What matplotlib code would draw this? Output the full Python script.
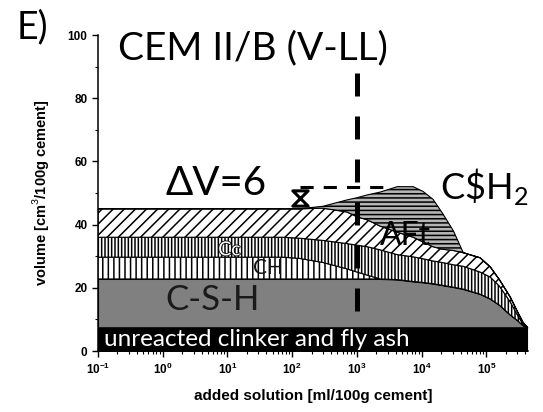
import numpy as np
import matplotlib
matplotlib.use("Agg")
import matplotlib.pyplot as plt
from matplotlib.path import Path
from matplotlib.ticker import LogLocator, MultipleLocator
import matplotlib.patheffects as pe

plt.rcParams["font.family"] = ["Lato", "DejaVu Sans"]
plt.rcParams["mathtext.fontset"] = "custom"
plt.rcParams["mathtext.rm"] = "Lato"
plt.rcParams["hatch.linewidth"] = 1.1

# added solution (ml / 100 g cement)
solution_ml = [0.1, 72, 130, 300, 700, 1000, 1450, 2300, 4200, 7400, 10500,
               15000, 21000, 31000, 44000, 80000, 115000, 160000, 235000,
               310000, 370000, 430000]

# phase volumes (cm3 / 100 g cement), stacked bottom to top
clinker = [7.5] * 22
csh = [15.3, 15.3, 15.3, 15.3, 15.3, 15.3, 15.3, 15.3, 15.1, 14.5, 14.2,
       13.8, 13.3, 12.7, 12.1, 10.5, 9.0, 7.0, 3.9, 2.0, 0.5, 0.0]
ch = [6.9, 6.9, 6.5, 5.2, 3.2, 2.2, 1.2, 0, 0, 0, 0,
      0, 0, 0, 0, 0, 0, 0, 0, 0, 0, 0]
cc = [6.3, 6.3, 6.4, 7.0, 8.0, 8.5, 9.0, 9.2, 7.9, 7.8, 7.5,
      7.2, 7.2, 7.1, 7.2, 7.0, 6.9, 6.0, 4.1, 1.5, 0.5, 0.0]
aft = [9.0, 9.0, 9.3, 10.2, 10.0, 9.0, 8.5, 7.5, 7.1, 6.2, 5.3,
       4.5, 4.2, 4.5, 4.3, 4.5, 3.2, 2.0, 1.5, 1.0, 0.5, 0.0]
gypsum = [0, 0, 0, 0.6, 3.8, 6.0, 7.9, 10.8, 14.4, 16.0, 16.0,
          15.0, 11.4, 6.2, 0, 0, 0, 0, 0, 0, 0, 0]

# reference point and dashed guides
point_x, point_y = 130, 48.4
level_y = 51.9
level_end_x = 3200
marker_x_line = 1000
marker_line_top = 88

fig = plt.figure(figsize=(5.43, 4.12), dpi=100)
ax = fig.add_axes([98 / 543, 1 - 351 / 412, 430 / 543, 316 / 412])

layers = [
    (clinker, dict(facecolor="black", edgecolor="black", hatch=None)),
    (csh, dict(facecolor="#808080", edgecolor="black", hatch=None)),
    (ch, dict(facecolor="white", edgecolor="black", hatch="|||")),
    (cc, dict(facecolor="white", edgecolor="black", hatch="|||||")),
    (aft, dict(facecolor="white", edgecolor="black", hatch="///")),
    (gypsum, dict(facecolor="#b5b5b5", edgecolor="black", hatch="----")),
]

x = np.array(solution_ml, dtype=float)
base = np.zeros_like(x)
for vals, style in layers:
    top = base + np.array(vals, dtype=float)
    ax.fill_between(x, base, top, linewidth=0.8, **style)
    base = top

# dashed guide lines
ax.plot([marker_x_line, marker_x_line], [marker_line_top, 0], color="black",
        lw=3.6, dashes=(4.6, 4.0), solid_capstyle="butt", dash_capstyle="butt",
        zorder=5)
ax.plot([point_x, level_end_x], [level_y, level_y], color="black",
        lw=2.2, dashes=(4.3, 3.3), dash_capstyle="butt", zorder=5)

hourglass = Path([(-1, 1), (1, 1), (-1, -1), (1, -1), (-1, 1)],
                 [Path.MOVETO, Path.LINETO, Path.LINETO, Path.LINETO, Path.CLOSEPOLY])
ax.plot([point_x], [point_y], marker=hourglass, markersize=11,
        markerfacecolor="none", markeredgecolor="black", mew=2.2, zorder=6)

# annotations
ax.text(0.047, 0.957, "CEM II/B (V-LL)", transform=ax.transAxes, fontsize=28,
        ha="left", va="center", color="black")
ax.text(1.09, 53, "ΔV=6", fontsize=29, ha="left", va="center", color="black")
ax.text(19500, 52, r"C\$H$_2$", fontsize=26, ha="left", va="center", color="black")
ax.text(2300, 36.4, "AFt", fontsize=23, ha="left", va="center", color="black")
ax.text(7.2, 32, "Cc", fontsize=14, ha="left", va="center", color="white",
        path_effects=[pe.withStroke(linewidth=1.2, foreground="black")])
ax.text(25, 26.3, "CH", fontsize=15, ha="left", va="center", color="#111111")
ax.text(1.09, 16, "C-S-H", fontsize=25, ha="left", va="center", color="#1a1a1a")
ax.text(0.125, 3.6, "unreacted clinker and fly ash", fontsize=17.5, ha="left",
        va="center", color="white", zorder=7)

fig.text(0.03, 0.934, "E)", fontsize=27, ha="left", va="center", color="black")

# axes styling
ax.set_xscale("log")
ax.set_xlim(0.1, 4.4e5)
ax.set_ylim(0, 100)
ax.yaxis.set_major_locator(MultipleLocator(20))
ax.yaxis.set_minor_locator(MultipleLocator(10))
ax.xaxis.set_major_locator(LogLocator(base=10, numticks=20))
ax.xaxis.set_minor_locator(LogLocator(base=10, subs=np.arange(2, 10), numticks=20))
for side in ("top", "right"):
    ax.spines[side].set_visible(False)
for side in ("left", "bottom"):
    ax.spines[side].set_linewidth(1.1)
ax.tick_params(which="major", direction="out", length=4, width=1.0,
               labelsize=8.5)
ax.tick_params(which="minor", direction="out", length=2.2, width=0.8)
for lab in ax.get_xticklabels() + ax.get_yticklabels():
    lab.set_family(["Liberation Sans", "DejaVu Sans"])
    lab.set_fontweight("bold")

ax.set_xlabel("added solution [ml/100g cement]", fontsize=11,
              family=["Liberation Sans", "DejaVu Sans"], fontweight="bold",
              labelpad=9)
ax.set_ylabel("volume [cm$^3$/100g cement]", fontsize=10.5,
              family=["Liberation Sans", "DejaVu Sans"], fontweight="bold",
              labelpad=12)

fig.savefig("out.png", dpi=100)
